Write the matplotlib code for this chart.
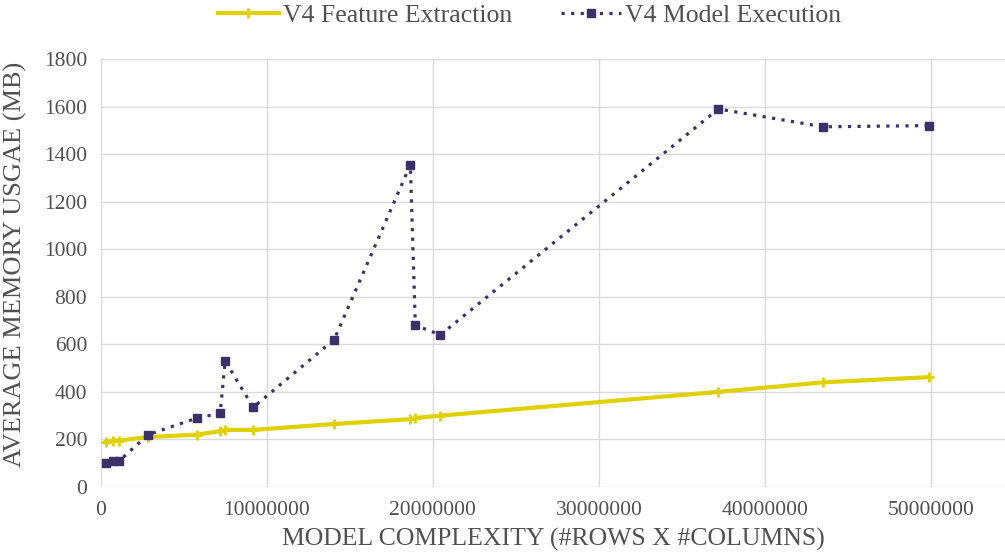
import matplotlib.pyplot as plt

# model complexity (#rows x #columns)
complexity = [300000, 700000, 1100000, 2830000, 5790000, 7180000, 7480000, 9170000,
              14050000, 18640000, 18940000, 20450000, 37200000, 43500000, 49900000]

# average memory usage (MB)
feature_extraction = [190, 195, 195, 210, 220, 235, 240, 240,
                      265, 285, 290, 300, 400, 440, 462]
model_execution = [100, 110, 110, 220, 290, 310, 530, 335,
                   620, 1355, 680, 640, 1590, 1515, 1520]

yellow = "#e0d000"
purple = "#3b3168"
grey = "#505050"

plt.rcParams["font.family"] = ["Liberation Serif", "DejaVu Serif"]

fig = plt.figure(figsize=(10.05, 5.6), dpi=100)
ax = fig.add_axes([0.1005, 0.1304, 0.9, 0.7642])

ax.plot(complexity, feature_extraction, color=yellow, linewidth=3,
        marker="+", markersize=7, markeredgewidth=2, label="V4 Feature Extraction")
ax.plot(complexity, model_execution, color=purple, linewidth=2.3,
        linestyle=(0, (1, 2.0)), marker="s", markersize=6,
        label="V4 Model Execution")

ax.set_xlim(0, 54500000)
ax.set_ylim(0, 1800)
ax.set_xticks([0, 10000000, 20000000, 30000000, 40000000, 50000000])
ax.set_yticks(range(0, 1801, 200))
ax.xaxis.set_major_formatter(plt.FuncFormatter(lambda v, p: "%d" % v))

ax.grid(True, color="#d9d9d9", linewidth=1)
ax.set_axisbelow(True)
for s in ax.spines.values():
    s.set_visible(False)
ax.tick_params(length=0, labelsize=15.5, colors=grey, pad=10)

ax.set_xlabel("MODEL COMPLEXITY (#ROWS X #COLUMNS)", fontsize=18.5, color=grey, labelpad=6)
ax.set_ylabel("AVERAGE MEMORY USGAE (MB)", fontsize=19, color=grey, labelpad=4)
ax.yaxis.set_label_coords(-0.082, 0.52)

leg = fig.legend(loc="center", bbox_to_anchor=(0.527, 0.972), ncol=2, frameon=False,
                 fontsize=18.5, handlelength=2.35, handletextpad=0.15, columnspacing=1.9)
for t in leg.get_texts():
    t.set_color(grey)

fig.savefig("out.png", dpi=100)
